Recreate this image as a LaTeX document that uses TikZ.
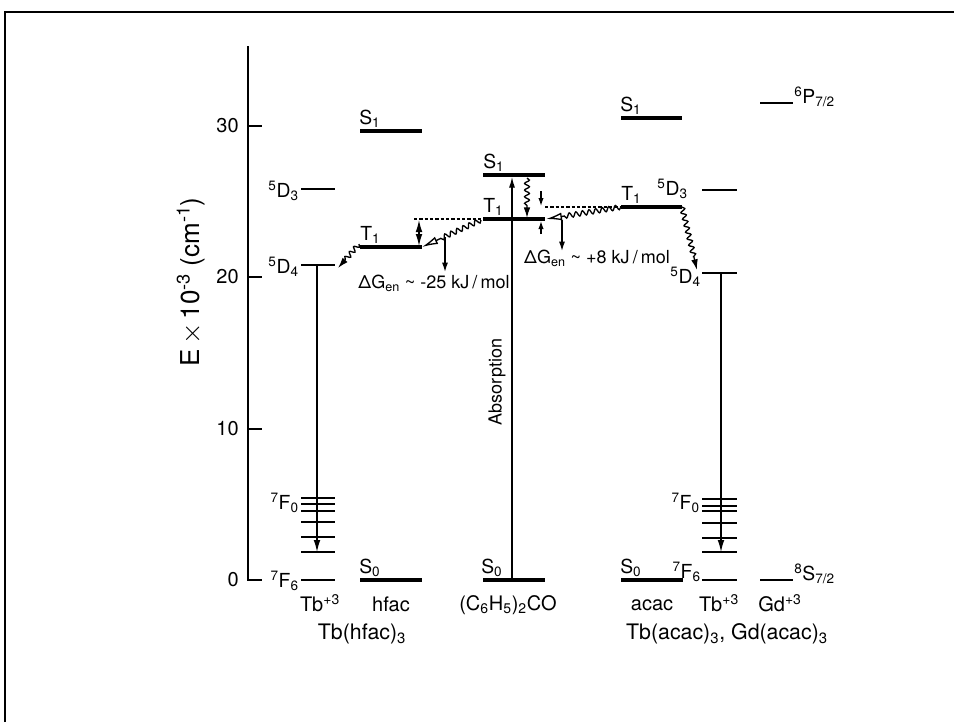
\documentclass[tikz,border=0pt]{standalone}
\usepackage{fontspec}
\setmainfont{TeX Gyre Heros}
\usetikzlibrary{arrows.meta,positioning,calc,decorations.pathmorphing}
\tikzset{
    every picture/.style={line join=miter},
    frame/.style={line width=1.5pt},
    axisline/.style={line width=1.4pt},
    level/.style={line width=3.2pt},
    ionlevel/.style={line width=1.4pt},
    gapline/.style={dash pattern=on 2.4pt off 1.6pt,line width=0.9pt},
    radarrow/.style={-{Latex[length=9pt,width=5pt]},line width=0.9pt},
    droparrow/.style={-{Latex[length=7pt,width=4.5pt]},line width=1pt},
    gaparrow/.style={-{Latex[length=6pt,width=4pt]},line width=0.9pt},
    wavy/.style={decorate,decoration={snake,amplitude=1.8pt,segment length=5pt,post length=8pt},line width=1pt},
    wavyarrow/.style={wavy,-{Latex[length=8pt,width=5pt]}},
    backarrow/.style={wavy,-{Latex[open,length=12pt,width=6pt]},decoration={post length=13pt}},
    lvllabel/.style={font=\fontsize{14.5}{16}\selectfont,inner sep=0pt},
    ticklabel/.style={font=\fontsize{15}{17}\selectfont,inner sep=0pt},
    axislabel/.style={font=\fontsize{19.5}{22}\selectfont,inner sep=0pt},
    specieslabel/.style={font=\fontsize{15}{17}\selectfont,inner sep=0pt},
    complexlabel/.style={font=\fontsize{16}{18}\selectfont,inner sep=0pt},
    gaplabel/.style={font=\fontsize{13.5}{15}\selectfont,inner sep=0pt}
}
\begin{document}
\begin{tikzpicture}[x=0.75pt,y=-0.75pt]
    \useasboundingbox (0,0) rectangle (954,722);
    \draw[frame] (5,722) -- (5,12) -- (954,12);
    % energy axis
    \draw[axisline] (248,46) -- (248,580) -- (262,580);
    \foreach \yy in {126,277,429}
        \draw[axisline] (248,\yy) -- (262,\yy);
    \foreach \val/\yy in {0/580,10/429,20/277,30/126}
        \node[ticklabel,anchor=east] (tick\val) at (239,\yy) {\val};
    \node[axislabel,rotate=90] (elabel) at (191,282) {E\,$\times$\,10\textsuperscript{-3} (cm\textsuperscript{-1})};

    % Tb(hfac)3 : Tb levels
    \draw[ionlevel] (301,189) coordinate (lD3l) -- (335,189) coordinate (lD3r);
    \draw[ionlevel] (301,265) coordinate (lD4l) -- (335,265) coordinate (lD4r);
    \foreach \yy/\w in {498/2.2,504/2.2,511/2.2,522/1.8,537/1.6,552/2.2}
        \draw[line width=\w pt] (301,\yy) -- (335,\yy);
    \draw[ionlevel] (301,580) coordinate (lF6l) -- (335,580) coordinate (lF6r);
    \node[lvllabel,anchor=east] (lD3lab) at (299,191) {\textsuperscript{5}D\textsubscript{3}};
    \node[lvllabel,anchor=east] (lD4lab) at (299,267) {\textsuperscript{5}D\textsubscript{4}};
    \node[lvllabel,anchor=east] (lF0lab) at (299,503) {\textsuperscript{7}F\textsubscript{0}};
    \node[lvllabel,anchor=east] (lF6lab) at (299,581) {\textsuperscript{7}F\textsubscript{6}};
    \node[specieslabel] (ltb) at (320,603) {Tb\textsuperscript{+3}};
    \coordinate (lEmTop) at (317,265);
    \coordinate (lF5) at (317,552);
    \draw[radarrow] (lEmTop) -- (lF5);

    % hfac levels
    \draw[level] (360,131) coordinate (hS1l) -- (422,131) coordinate (hS1r);
    \draw[level] (360,247) coordinate (hT1l) -- (422,247) coordinate (hT1r);
    \draw[level] (360,580) coordinate (hS0l) -- (422,580) coordinate (hS0r);
    \node[lvllabel,anchor=south west] (hS1lab) at (359,128) {S\textsubscript{1}};
    \node[lvllabel,anchor=south west] (hT1lab) at (360,244) {T\textsubscript{1}};
    \node[lvllabel,anchor=south west] (hS0lab) at (359,577) {S\textsubscript{0}};
    \node[specieslabel] (hname) at (391,604) {hfac};
    \node[complexlabel] (hcomplex) at (362,634) {Tb(hfac)\textsubscript{3}};

    % benzophenone levels
    \draw[level] (483,175) coordinate (bS1l) -- (545,175) coordinate (bS1r);
    \draw[level] (483,219) coordinate (bT1l) -- (545,219) coordinate (bT1r);
    \draw[level] (483,580) coordinate (bS0l) -- (545,580) coordinate (bS0r);
    \node[lvllabel,anchor=south west] (bS1lab) at (483,172) {S\textsubscript{1}};
    \node[lvllabel,anchor=south west] (bT1lab) at (483,216) {T\textsubscript{1}};
    \node[lvllabel,anchor=south west] (bS0lab) at (481,577) {S\textsubscript{0}};
    \node[specieslabel] (bname) at (508,605) {(C\textsubscript{6}H\textsubscript{5})\textsubscript{2}CO};
    \coordinate (bAbsBot) at (512,580);
    \coordinate (bAbsTop) at (512,177);
    \draw[radarrow,-{Latex[length=8pt,width=4.5pt]}] (bAbsBot) -- (bAbsTop);
    \node[gaplabel,rotate=90] (absorb) at (497,382) {Absorption};
    \coordinate (bIscTop) at (527,178);
    \coordinate (bIscBot) at (527,218);
    \draw[wavyarrow] (bIscTop) -- (bIscBot);

    % acac levels
    \draw[level] (621,118) coordinate (aS1l) -- (682,118) coordinate (aS1r);
    \draw[level] (621,207) coordinate (aT1l) -- (682,207) coordinate (aT1r);
    \draw[level] (621,580) coordinate (aS0l) -- (683,580) coordinate (aS0r);
    \node[lvllabel,anchor=south west] (aS1lab) at (620,115) {S\textsubscript{1}};
    \node[lvllabel,anchor=south west] (aT1lab) at (621,204) {T\textsubscript{1}};
    \node[lvllabel,anchor=south west] (aS0lab) at (620,577) {S\textsubscript{0}};
    \node[specieslabel] (aname) at (652,605) {acac};

    % Tb(acac)3 : Tb levels
    \draw[ionlevel] (702,190) coordinate (rD3l) -- (737,190) coordinate (rD3r);
    \draw[ionlevel] (702,273) coordinate (rD4l) -- (737,273) coordinate (rD4r);
    \foreach \yy/\w in {499/2.2,506/2.2,511/2.2,523/1.8,538/1.6,552/2.2}
        \draw[line width=\w pt] (702,\yy) -- (737,\yy);
    \draw[ionlevel] (702,580) coordinate (rF6l) -- (737,580) coordinate (rF6r);
    \node[lvllabel,anchor=east] (rD3lab) at (688,189) {\textsuperscript{5}D\textsubscript{3}};
    \node[lvllabel,anchor=east] (rD4lab) at (701,277) {\textsuperscript{5}D\textsubscript{4}};
    \node[lvllabel,anchor=east] (rF0lab) at (700,503) {\textsuperscript{7}F\textsubscript{0}};
    \node[lvllabel,anchor=east] (rF6lab) at (701,572) {\textsuperscript{7}F\textsubscript{6}};
    \node[specieslabel] (rtb) at (719,603) {Tb\textsuperscript{+3}};
    \coordinate (rEmTop) at (721,273);
    \coordinate (rF5) at (721,552);
    \draw[radarrow] (rEmTop) -- (rF5);

    % Gd levels
    \draw[ionlevel] (760,103) coordinate (gPl) -- (793,103) coordinate (gPr);
    \draw[ionlevel] (760,580) coordinate (gSl) -- (793,580) coordinate (gSr);
    \node[lvllabel,anchor=south west] (gPlab) at (794,107) {\textsuperscript{6}P\textsubscript{7/2}};
    \node[lvllabel,anchor=south west] (gSlab) at (794,584) {\textsuperscript{8}S\textsubscript{7/2}};
    \node[specieslabel] (rgd) at (780,603) {Gd\textsuperscript{+3}};
    \node[complexlabel] (acomplex) at (727,634) {Tb(acac)\textsubscript{3}, Gd(acac)\textsubscript{3}};

    % energy transfer and gaps
    \draw[gapline] (414,219) coordinate (hGap) -- (bT1l);
    \draw[gapline] (bT1r |- aT1l) coordinate (aGap) -- (aT1l);
    \draw[{Latex[length=9pt,width=5pt]}-{Latex[length=9pt,width=5pt]},line width=0.9pt]
        (419,220) coordinate (hGapTop) -- (419,246) coordinate (hGapBot);
    \draw[gaparrow] (541,191) coordinate (aGapTop) -- (541,206);
    \draw[gaparrow] (541,234) coordinate (aGapBot) -- (541,221);
    \draw[backarrow] (481,220) -- (hT1r);
    \draw[backarrow] (aT1l) -- (546,219);
    \draw[droparrow] (445,237) coordinate (hDrop) -- (445,272);
    \draw[droparrow] (562,220) coordinate (aDrop) -- (562,251);
    \draw[wavyarrow] (359,244) -- (338,268);
    \draw[wavyarrow] (aT1r) -- (697,270);
    \node[gaplabel] (hdg) at (434,283) {ΔG\textsubscript{en} \textasciitilde{} -25 kJ\,/\,mol};
    \node[gaplabel] (adg) at (597,258) {ΔG\textsubscript{en} \textasciitilde{} +8 kJ\,/\,mol};
\end{tikzpicture}
\end{document}
